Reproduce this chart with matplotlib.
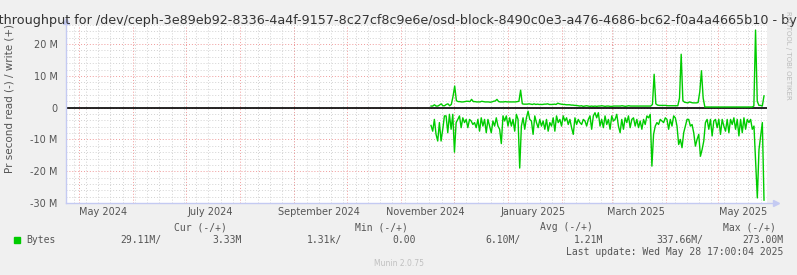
import matplotlib
matplotlib.use("Agg")
import matplotlib.pyplot as plt
import matplotlib.dates as mdates
import numpy as np
import pandas as pd

# ---------------- data (values in bytes/s, read as negative) ----------------
graph_start = "2024-04-23 17:00"
graph_end = "2025-05-28 17:00"
data_first = "2024-11-18"
data_last = "2025-05-27"

# write (+) series, M bytes/s
write_M = [
    0.5, 0.5, 0.9, 0.5, 0.5, 0.8, 1.2, 0.6, 0.6, 1.0, 1.2, 0.6, 1.0, 3.5,
    6.8, 2.2, 1.9, 1.9, 1.8, 1.8, 1.9, 2.0, 2.0, 1.9, 2.6, 1.9, 1.9, 1.8,
    1.8, 1.8, 2.0, 1.9, 1.8, 1.8, 1.8, 1.7, 1.8, 2.0, 2.1, 2.6, 1.9, 1.8,
    1.8, 1.8, 1.9, 1.8, 1.8, 1.8, 1.8, 1.8, 1.8, 1.9, 2.0, 5.5, 1.2, 1.1,
    1.1, 1.1, 1.2, 1.1, 1.0, 1.2, 1.0, 1.1, 1.0, 1.0, 1.0, 1.1, 1.1, 1.2,
    1.0, 1.0, 1.0, 1.1, 1.0, 1.4, 1.2, 1.1, 1.0, 1.0, 0.9, 0.9, 0.9, 0.8,
    0.8, 0.7, 0.7, 0.6, 0.5, 0.6, 0.4, 0.5, 0.6, 0.5, 0.4, 0.5, 0.4, 0.5,
    0.4, 0.5, 0.5, 0.6, 0.5, 0.4, 0.5, 0.5, 0.4, 0.4, 0.5, 0.5, 0.5, 0.5,
    0.5, 0.6, 0.5, 0.4, 0.5, 0.6, 0.5, 0.5, 0.5, 0.5, 0.5, 0.5, 0.5, 0.5,
    0.5, 0.5, 0.5, 0.5, 0.5, 1.0, 10.5, 1.2, 0.8, 0.7, 0.7, 0.7, 0.7, 0.7,
    0.6, 0.6, 0.6, 0.6, 0.6, 0.6, 0.6, 3.0, 16.8, 2.2, 1.7, 1.6, 1.5, 1.8,
    1.6, 1.5, 1.5, 1.5, 1.6, 5.0, 11.6, 3.0, 0.2, 0.2, 0.2, 0.2, 0.2, 0.2,
    0.2, 0.2, 0.2, 0.2, 0.2, 0.2, 0.2, 0.2, 0.2, 0.2, 0.2, 0.2, 0.2, 0.2,
    0.2, 0.2, 0.2, 0.2, 0.2, 0.2, 0.2, 0.2, 0.2, 0.5, 24.4, 2.0, 0.7, 0.7,
    0.5, 3.7,
]

# read (-) series, M bytes/s (already negative)
read_M = [
    -5.6, -7.4, -3.7, -8.4, -10.5, -4.7, -10.5, -6.8, -2.6, -2.6, -7.9, -2.1,
    -6.8, -2.1, -14.0, -4.7, -3.7, -2.6, -6.3, -3.2, -4.7, -3.7, -6.3, -3.7,
    -4.2, -5.3, -4.7, -6.3, -3.7, -7.4, -3.2, -5.8, -3.7, -7.9, -3.7, -5.8,
    -7.9, -4.2, -5.8, -3.2, -5.8, -6.8, -11.3, -2.6, -4.2, -2.6, -5.8, -3.2,
    -5.8, -3.7, -7.4, -2.1, -3.7, -19.0, -5.8, -3.2, -6.8, -3.2, -1.1, -3.7,
    -4.2, -8.4, -2.6, -4.7, -6.3, -3.7, -5.8, -4.2, -6.8, -3.7, -7.4, -4.7,
    -5.8, -3.2, -7.4, -2.6, -4.7, -3.7, -5.8, -2.6, -4.2, -3.2, -5.3, -3.7,
    -6.3, -8.4, -3.2, -5.3, -3.7, -4.7, -5.3, -3.7, -4.2, -5.8, -3.7, -2.6,
    -6.8, -2.6, -1.6, -3.2, -1.6, -5.8, -3.7, -6.3, -2.6, -5.3, -3.7, -6.8,
    -2.6, -4.2, -3.7, -2.1, -5.8, -7.9, -3.7, -6.8, -3.2, -4.7, -2.6, -6.3,
    -3.7, -3.2, -5.8, -3.7, -6.3, -4.2, -6.8, -3.7, -5.3, -2.6, -3.2, -2.1,
    -18.4, -8.4, -5.8, -4.7, -5.3, -3.7, -4.2, -4.7, -3.2, -3.7, -6.8, -3.7,
    -5.8, -2.6, -3.2, -5.8, -11.6, -10.0, -12.6, -7.9, -5.8, -3.7, -3.7, -5.8,
    -5.3, -7.9, -12.1, -10.0, -8.4, -15.3, -13.2, -10.5, -4.7, -3.7, -6.8, -3.7,
    -8.9, -4.2, -3.7, -6.3, -3.7, -8.4, -3.7, -5.8, -7.4, -3.7, -7.9, -3.7,
    -5.3, -3.2, -6.8, -3.7, -8.9, -3.7, -7.9, -3.2, -6.8, -3.7, -4.7, -3.7,
    -6.8, -5.8, -17.4, -28.4, -13.2, -8.9, -4.7, -29.1,
]

y_min_M, y_max_M = -30, 26
y_tick_vals_M = [-30, -20, -10, 0, 10, 20]
y_tick_labels = ["-30 M", "-20 M", "-10 M", "0", "10 M", "20 M"]
x_label_dates = ["2024-05-15", "2024-07-15", "2024-09-15", "2024-11-15",
                 "2025-01-15", "2025-03-15", "2025-05-15"]
x_labels = ["May 2024", "July 2024", "September 2024", "November 2024",
            "January 2025", "March 2025", "May 2025"]

title = ("Disk throughput for /dev/ceph-3e89eb92-8336-4a4f-9157-8c27cf8c9e6e/"
         "osd-block-8490c0e3-a476-4686-bc62-f0a4a4665b10 - by year")
ylabel = "Pr second read (-) / write (+)"
series_name = "Bytes"
cur_vals = ["29.11M/", "3.33M"]
min_vals = ["1.31k/", "0.00"]
avg_vals = ["6.10M/", "1.21M"]
max_vals = ["337.66M/", "273.00M"]
last_update = "Last update: Wed May 28 17:00:04 2025"

# ---------------- figure ----------------
W, H = 797, 275
BACK = "#F0F0F0"
TXT = "#555555"
GREEN = "#00CC00"
AXC = "#C4CAF2"

fig = plt.figure(figsize=(W / 100, H / 100), dpi=100, facecolor=BACK)
L, R, T, B = 66, 767, 25, 203
ax = fig.add_axes([L / W, (H - B) / H, (R - L) / W, (B - T) / H])
ax.set_facecolor("white")

x0, x1 = pd.Timestamp(graph_start), pd.Timestamp(graph_end)
ax.set_xlim(x0, x1)
ax.set_ylim(y_min_M * 1e6, y_max_M * 1e6)

# grid lines
weeks = mdates.WeekdayLocator(byweekday=mdates.SU).tick_values(x0, x1)
months = mdates.MonthLocator().tick_values(x0, x1)
xn0, xn1 = mdates.date2num(x0), mdates.date2num(x1)
for w in weeks:
    if xn0 < w < xn1:
        ax.axvline(w, color="#D2D2D2", lw=0.7, ls=(0, (1, 2)), zorder=1)
for m in months:
    if xn0 < m < xn1:
        ax.axvline(m, color="#F09A9A", lw=0.7, ls=(0, (1, 2)), zorder=1.5)
for v in range(y_min_M, y_max_M + 1, 2):
    if v % 10 == 0:
        ax.axhline(v * 1e6, color="#F09A9A", lw=0.7, ls=(0, (1, 2)), zorder=1.5)
    else:
        ax.axhline(v * 1e6, color="#D2D2D2", lw=0.7, ls=(0, (1, 2)), zorder=1)

# zero line
ax.axhline(0, color="black", lw=1.2, zorder=3)

# series
dates = pd.date_range(data_first, data_last, periods=len(read_M))
ax.plot(dates, np.array(read_M) * 1e6, color=GREEN, lw=1.0, zorder=4)
dates_w = pd.date_range(data_first, data_last, periods=len(write_M))
ax.plot(dates_w, np.array(write_M) * 1e6, color=GREEN, lw=1.0, zorder=4)

# axes styling
for s in ["top", "right", "left", "bottom"]:
    ax.spines[s].set_visible(False)
ax.set_yticks([v * 1e6 for v in y_tick_vals_M])
ax.set_yticklabels(y_tick_labels)
ax.set_xticks([pd.Timestamp(d) for d in x_label_dates])
ax.set_xticklabels(x_labels)
ax.tick_params(axis="y", length=0, pad=6, labelsize=7, labelcolor=TXT)
ax.tick_params(axis="x", length=0, pad=3, labelsize=7, labelcolor=TXT)

# axis lines with arrows (in axes-fraction coordinates)
ax.plot([0, 0], [0, 1.02], transform=ax.transAxes, color=AXC, lw=1,
        clip_on=False, zorder=5)
ax.plot([0, 1.013], [0, 0], transform=ax.transAxes, color=AXC, lw=1,
        clip_on=False, zorder=5)
ax.plot([0], [1.02], marker="^", ms=4, color=AXC, transform=ax.transAxes,
        clip_on=False, zorder=5)
ax.plot([1.013], [0], marker=">", ms=4, color=AXC, transform=ax.transAxes,
        clip_on=False, zorder=5)

# texts
fig.text(0.5, 1 - 24 / H, title, ha="center", va="baseline", fontsize=9.15,
         color="#333333")
fig.text(10 / W, 1 - 98 / H, ylabel, rotation=90, ha="center", va="center",
         fontsize=7.5, color=TXT)
fig.text(788 / W, 1 - 55 / H, "RRDTOOL / TOBI OETIKER", rotation=270,
         ha="center", va="center", fontsize=5, color="#BBBBBB")
fig.text(398.5 / W, 1 - 264 / H, "Munin 2.0.75", ha="center", va="center",
         fontsize=5.5, color="#C0C0C0")

mono = dict(family="DejaVu Sans Mono", fontsize=7, color=TXT, va="center")
fy = lambda py: 1 - py / H
fig.text(227 / W, fy(227), "Cur (-/+)", ha="right", **mono)
fig.text(408 / W, fy(227), "Min (-/+)", ha="right", **mono)
fig.text(593 / W, fy(227), "Avg (-/+)", ha="right", **mono)
fig.text(776 / W, fy(227), "Max (-/+)", ha="right", **mono)

fig.patches.append(plt.Rectangle((14 / W, fy(243)), 6 / W, 6 / H,
                                 transform=fig.transFigure, color=GREEN))
fig.text(26 / W, fy(240), series_name, ha="left", **mono)
col_right = [161, 242, 342, 416, 521, 603, 703, 783]
vals = cur_vals + min_vals + avg_vals + max_vals
for xr, v in zip(col_right, vals):
    fig.text(xr / W, fy(240), v, ha="right", **mono)
fig.text(783 / W, fy(252), last_update, ha="right", **mono)

fig.savefig("out.png", dpi=100, facecolor=BACK)
